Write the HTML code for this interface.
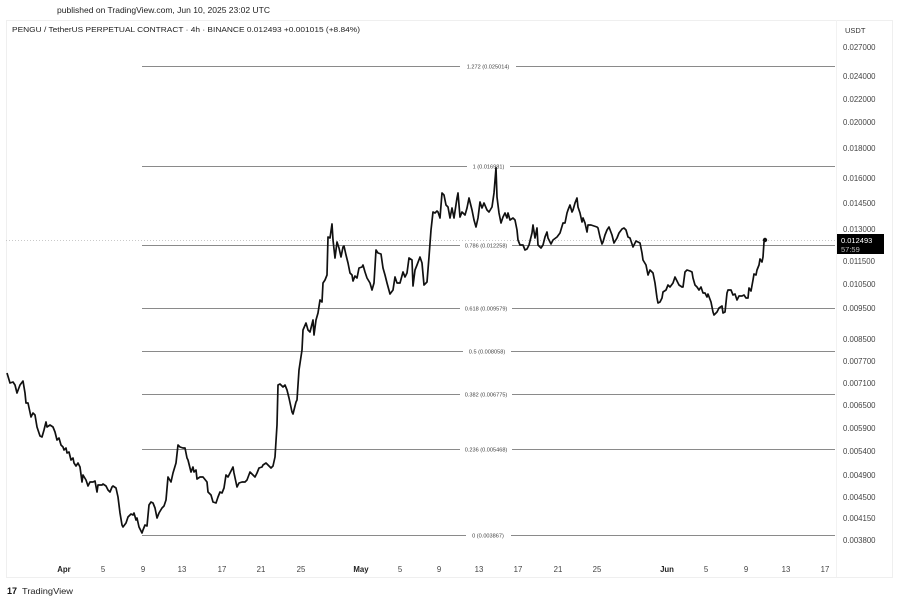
<!DOCTYPE html>
<html><head><meta charset="utf-8"><style>
html,body{margin:0;padding:0;background:#fff;}
svg{display:block;font-family:"Liberation Sans",Arial,sans-serif;}
</style></head><body>
<svg width="900" height="602" viewBox="0 0 900 602" xmlns="http://www.w3.org/2000/svg">
<rect width="900" height="602" fill="#fff"/>
<text x="57" y="13" font-size="8.5" fill="#222" textLength="213" lengthAdjust="spacingAndGlyphs">published on TradingView.com, Jun 10, 2025 23:02 UTC</text>
<rect x="6.5" y="20.5" width="886" height="557" fill="none" stroke="#efefef" stroke-width="1"/>
<line x1="836.5" y1="20" x2="836.5" y2="578" stroke="#f2f2f2"/>
<text x="12" y="32" font-size="7.5" fill="#222" textLength="348" lengthAdjust="spacingAndGlyphs">PENGU / TetherUS PERPETUAL CONTRACT · 4h · BINANCE  0.012493  +0.001015 (+8.84%)</text>
<text x="845" y="33" font-size="7.5" fill="#333">USDT</text>
<g font-size="7.8" fill="#444">
<text x="843" y="50">0.027000</text>
<text x="843" y="79">0.024000</text>
<text x="843" y="102">0.022000</text>
<text x="843" y="125">0.020000</text>
<text x="843" y="151">0.018000</text>
<text x="843" y="181">0.016000</text>
<text x="843" y="206">0.014500</text>
<text x="843" y="232">0.013000</text>
<text x="843" y="264">0.011500</text>
<text x="843" y="287">0.010500</text>
<text x="843" y="311">0.009500</text>
<text x="843" y="342">0.008500</text>
<text x="843" y="364">0.007700</text>
<text x="843" y="386">0.007100</text>
<text x="843" y="408">0.006500</text>
<text x="843" y="431">0.005900</text>
<text x="843" y="454">0.005400</text>
<text x="843" y="478">0.004900</text>
<text x="843" y="500">0.004500</text>
<text x="843" y="521">0.004150</text>
<text x="843" y="543">0.003800</text>
</g>
<line x1="6" y1="240.5" x2="836" y2="240.5" stroke="#b8b8b8" stroke-width="0.8" stroke-dasharray="1,2"/>
<g stroke="#8a8a8a" stroke-width="1">
<line x1="142" y1="66.5" x2="835" y2="66.5"/>
<line x1="142" y1="166.5" x2="835" y2="166.5"/>
<line x1="142" y1="245.5" x2="835" y2="245.5"/>
<line x1="142" y1="308.5" x2="835" y2="308.5"/>
<line x1="142" y1="351.5" x2="835" y2="351.5"/>
<line x1="142" y1="394.5" x2="835" y2="394.5"/>
<line x1="142" y1="449.5" x2="835" y2="449.5"/>
<line x1="142" y1="535.5" x2="835" y2="535.5"/>
</g>
<g fill="#fff">
<rect x="460" y="62" width="56" height="9"/>
<rect x="467" y="162" width="43" height="9"/>
<rect x="460" y="241" width="52" height="9"/>
<rect x="460" y="304" width="52" height="9"/>
<rect x="463" y="347" width="48" height="9"/>
<rect x="460" y="390" width="52" height="9"/>
<rect x="460" y="445" width="52" height="9"/>
<rect x="466" y="531" width="45" height="9"/>
</g>
<g font-size="5.6" fill="#444" text-anchor="middle">
<text x="488" y="68.5">1.272 (0.025014)</text>
<text x="488.5" y="168.5">1 (0.016981)</text>
<text x="486" y="247.5">0.786 (0.012258)</text>
<text x="486" y="310.5">0.618 (0.009579)</text>
<text x="487" y="353.5">0.5 (0.008058)</text>
<text x="486" y="396.5">0.382 (0.006775)</text>
<text x="486" y="451.5">0.236 (0.005468)</text>
<text x="488" y="537.5">0 (0.003867)</text>
</g>
<polyline fill="none" stroke="#111" stroke-width="1.7" stroke-linejoin="round" points="
7,373 10,383 13,382 15,385 17,393 20,385 23,381 25,393 26,403 28,403 31,417 33,413 35,415 37,427 40,436 42,437 44,430 46,422 47,427 50,425 53,427 55,432 57,440 59,438 61,445 63,447 64,450 66,448 67,453 69,452 71,460 73,458 74,463 76,466 78,463 80,467 82,482 83,475 86,480 88,486 90,482 93,482 95,481 97,492 98,485 102,485 103,484 106,486 108,490 110,492 112,487 113,486 116,488 118,497 120,513 122,525 123,527 126,523 128,517 131,514 133,515 134,513 136,520 137,518 139,527 142,533 143,530 145,525 147,526 149,505 151,502 153,503 155,508 157,518 159,513 162,508 164,506 166,500 168,477 171,482 173,473 176,463 178,445 180,447 183,448 185,448 187,458 188,460 191,472 193,467 194,472 196,470 197,479 200,477 203,477 207,482 208,492 211,495 213,502 216,503 218,497 220,492 222,493 224,488 226,475 228,477 230,473 233,467 234,473 237,487 239,483 242,482 245,482 247,480 250,472 253,475 255,477 257,473 259,468 262,467 263,465 266,463 268,465 271,468 273,466 275,457 277,425 278,385 280,384 283,387 285,385 287,390 289,398 292,412 293,414 296,402 297,400 299,370 302,350 303,330 306,323 308,330 310,332 313,320 314,335 316,320 318,313 320,300 322,302 323,283 325,280 327,275 328,237 330,238 332,224 333,240 335,258 337,242 339,248 341,257 343,247 344,246 346,255 348,263 350,273 352,275 353,281 355,276 357,278 359,268 362,267 363,265 365,272 367,278 370,283 372,290 374,283 376,250 378,253 381,254 383,268 385,275 387,283 390,294 393,290 395,277 397,283 400,283 403,272 405,277 407,273 409,258 412,260 413,286 415,270 417,265 420,257 422,263 424,285 427,282 429,257 431,230 433,212 435,213 437,211 438,212 440,218 442,193 444,195 446,205 448,207 450,218 452,208 454,218 457,198 458,193 460,217 462,212 465,215 467,208 469,198 472,210 474,220 476,227 478,218 480,202 482,208 484,203 487,210 489,212 492,207 494,193 496,168 497,197 499,213 501,223 503,217 505,213 507,218 508,213 510,220 513,218 515,220 517,230 518,240 520,245 523,245 525,250 527,249 529,245 532,233 533,225 535,238 537,228 538,245 541,248 543,245 545,237 547,232 548,238 551,244 553,240 557,237 560,233 563,223 565,223 567,213 568,210 570,205 572,212 573,210 575,203 577,198 578,207 580,213 582,222 583,218 585,223 587,232 588,225 591,225 594,226 597,227 598,228 600,237 602,244 603,242 605,235 607,230 609,227 612,235 614,243 617,238 619,233 622,229 624,228 626,230 628,237 630,238 633,247 636,241 638,242 640,243 642,253 643,260 646,265 648,275 650,270 653,273 655,283 657,298 658,303 660,302 662,298 663,292 666,290 668,285 670,287 673,283 675,277 677,281 679,285 682,287 683,287 685,272 687,270 690,271 692,272 693,278 695,285 697,287 699,290 701,287 703,293 705,293 707,297 708,294 711,302 713,312 714,315 717,312 719,308 722,306 723,313 725,312 727,293 728,290 731,290 733,295 735,294 737,300 739,296 742,296 744,295 746,298 748,298 749,288 751,291 753,280 754,274 756,275 757,270 759,265 760,259 762,262 763,257 764,242 765,240"/>
<circle cx="765" cy="240" r="2.2" fill="#111"/>
<rect x="837" y="234" width="47" height="20" fill="#000"/>
<text x="841" y="243" font-size="7.5" fill="#fff">0.012493</text>
<text x="841" y="252" font-size="7.5" fill="#bbb">57:59</text>
<line x1="6" y1="577.5" x2="893" y2="577.5" stroke="#efefef"/>
<g font-size="7.8" fill="#444" text-anchor="middle">
<text x="64" y="572" font-weight="bold" fill="#222">Apr</text>
<text x="103" y="572">5</text>
<text x="143" y="572">9</text>
<text x="182" y="572">13</text>
<text x="222" y="572">17</text>
<text x="261" y="572">21</text>
<text x="301" y="572">25</text>
<text x="361" y="572" font-weight="bold" fill="#222">May</text>
<text x="400" y="572">5</text>
<text x="439" y="572">9</text>
<text x="479" y="572">13</text>
<text x="518" y="572">17</text>
<text x="558" y="572">21</text>
<text x="597" y="572">25</text>
<text x="667" y="572" font-weight="bold" fill="#222">Jun</text>
<text x="706" y="572">5</text>
<text x="746" y="572">9</text>
<text x="786" y="572">13</text>
<text x="825" y="572">17</text>
</g>
<text x="7" y="594" font-size="9" font-weight="bold" fill="#111">17</text>
<text x="22" y="594" font-size="8.5" fill="#222" textLength="51" lengthAdjust="spacingAndGlyphs">TradingView</text>
</svg>
</body></html>
